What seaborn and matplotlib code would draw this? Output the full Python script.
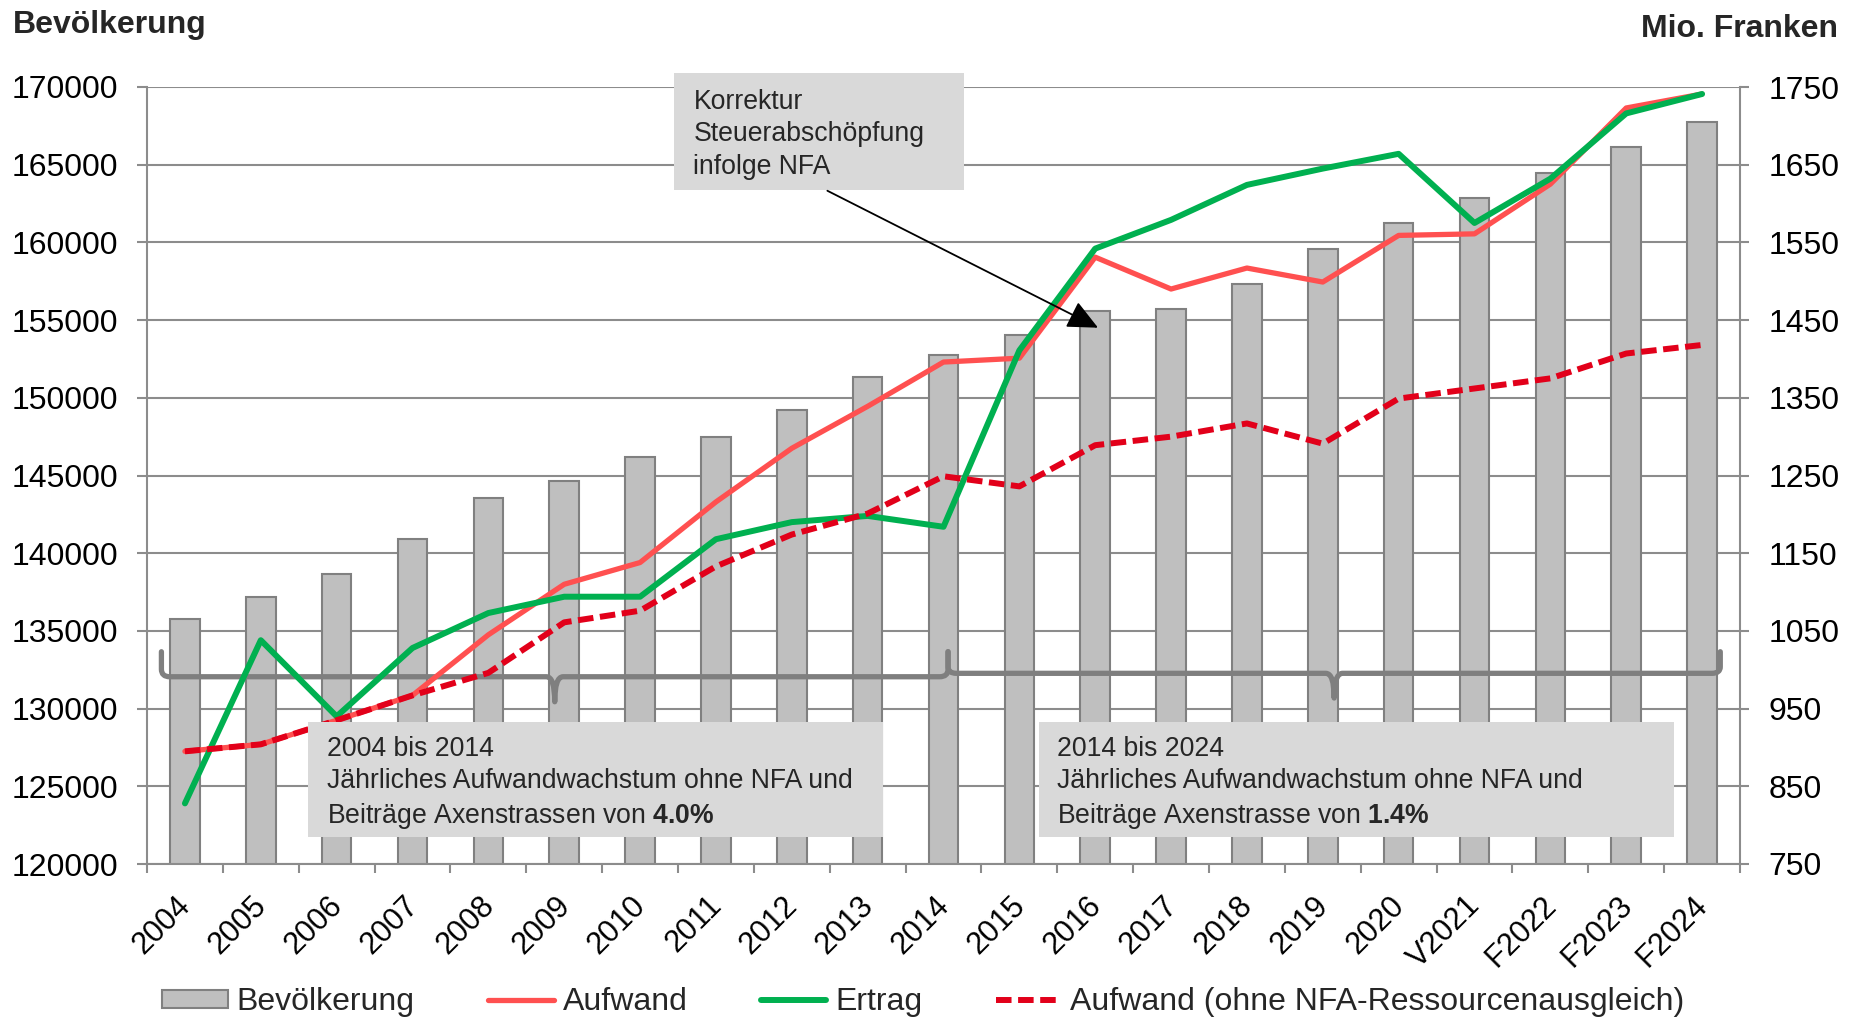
import numpy as np
import pandas as pd
import matplotlib
matplotlib.use('Agg')
import matplotlib.pyplot as plt
import matplotlib.transforms as mtransforms
import seaborn as sns
from matplotlib.patches import Rectangle, Patch, PathPatch
from matplotlib.lines import Line2D
from matplotlib.path import Path

# data
years = ['2004', '2005', '2006', '2007', '2008', '2009', '2010', '2011', '2012', '2013',
         '2014', '2015', '2016', '2017', '2018', '2019', '2020', 'V2021', 'F2022', 'F2023', 'F2024']
bevoelkerung = [135750, 137200, 138680, 140930, 143570, 144650, 146170, 147460, 149230, 151360,
                152730, 154060, 155600, 155730, 157300, 159600, 161230, 162840, 164450, 166120, 167770]
aufwand = [895, 904, 935, 967, 1045, 1110, 1138, 1216, 1285, 1339,
           1396, 1401, 1531, 1490, 1517, 1499, 1559, 1561, 1625, 1723, 1741]
ertrag = [828, 1038, 940, 1028, 1073, 1094, 1094, 1168, 1190, 1198,
          1184, 1411, 1542, 1579, 1624, 1645, 1664, 1575, 1632, 1716, 1741]
aufwand_ohne_nfa = [895, 904, 935, 967, 996, 1061, 1076, 1133, 1174, 1201,
                    1249, 1236, 1289, 1300, 1317, 1291, 1349, 1362, 1375, 1407, 1418]

left_ticks = list(range(120000, 170001, 5000))
right_ticks = list(range(750, 1751, 100))

sns.set_theme(style='white')
plt.rcParams['font.family'] = ['Liberation Sans', 'DejaVu Sans']
plt.rcParams['mathtext.fontset'] = 'custom'
plt.rcParams['mathtext.rm'] = 'Liberation Sans'
plt.rcParams['mathtext.bf'] = 'Liberation Sans:bold'

GRID = '#8C8C8C'
df = pd.DataFrame({'Jahr': years, 'pos': np.arange(len(years)), 'Bevoelkerung': bevoelkerung,
                   'Aufwand': aufwand, 'Ertrag': ertrag, 'Ohne': aufwand_ohne_nfa})

fig = plt.figure(figsize=(18.56, 10.18), dpi=100)
ax = fig.add_axes([147/1856, 1-864/1018, (1740-147)/1856, (864-87)/1018])

sns.barplot(data=df, x='Jahr', y='Bevoelkerung', color='#BFBFBF', saturation=1,
            edgecolor='#808080', linewidth=1.5, width=0.39, ax=ax, zorder=2)
ax.set_ylim(120000, 170000)
ax.set_xlim(-0.5, len(years) - 0.5)
ax.set_yticks(left_ticks)
ax.set_yticklabels([str(t) for t in left_ticks])
ax.set_xlabel('')
ax.set_ylabel('')
ax.set_axisbelow(True)
ax.yaxis.grid(True, color=GRID, lw=1.5)
for s in ['left', 'right', 'bottom']:
    ax.spines[s].set_color(GRID)
    ax.spines[s].set_linewidth(1.5)
ax.spines['top'].set_visible(False)
ax.tick_params(axis='y', left=True, length=7, width=1.5, color=GRID, pad=14,
               labelsize=23, labelcolor='black')
ax.set_xticks(np.arange(len(years)))
ax.set_xticks(np.arange(-0.5, len(years), 1), minor=True)
ax.tick_params(axis='x', which='major', length=0, pad=19, labelsize=22, labelcolor='black')
ax.tick_params(axis='x', which='minor', bottom=True, length=6.5, width=1.5, color=GRID)
offset = mtransforms.ScaledTranslation(12/100, 0, fig.dpi_scale_trans)
for lab in ax.get_xticklabels():
    lab.set_rotation(45)
    lab.set_ha('right')
    lab.set_va('top')
    lab.set_transform(lab.get_transform() + offset)


# curly braces
def brace(a, x0, x1, y, h, tip):
    xm = (x0 + x1) / 2
    rx = 0.11
    ry = h * 0.3
    verts = [(x0, y + h), (x0, y + ry), (x0, y), (x0 + rx, y),
             (xm - rx, y), (xm, y), (xm, y - tip),
             (xm, y), (xm + rx, y),
             (x1 - rx, y), (x1, y), (x1, y + ry), (x1, y + h)]
    codes = [Path.MOVETO, Path.LINETO, Path.CURVE3, Path.CURVE3,
             Path.LINETO, Path.CURVE3, Path.CURVE3,
             Path.CURVE3, Path.CURVE3,
             Path.LINETO, Path.CURVE3, Path.CURVE3, Path.LINETO]
    a.add_patch(PathPatch(Path(verts, codes), fill=False, edgecolor='#7F7F7F', lw=3.8,
                          capstyle='round', joinstyle='round', zorder=3))


brace(ax, -0.31, 10.06, 132050, 1610, 1610)
brace(ax, 10.06, 20.24, 132270, 1390, 1590)

ax2 = ax.twinx()
sns.lineplot(data=df, x='pos', y='Aufwand', color='#FF5050', lw=3.8, ax=ax2)
sns.lineplot(data=df, x='pos', y='Ertrag', color='#00B050', lw=4.3, ax=ax2)
sns.lineplot(data=df, x='pos', y='Ohne', color='#E2001A', lw=4.3, ax=ax2)
ax2.lines[-1].set_dashes([2.6, 1.1])
ax2.set_ylim(750, 1750)
ax2.set_xlim(-0.5, len(years) - 0.5)
ax2.set_yticks(right_ticks)
ax2.set_yticklabels([str(t) for t in right_ticks])
ax2.set_xlabel('')
ax2.set_ylabel('')
for s in ax2.spines.values():
    s.set_visible(False)
ax2.tick_params(axis='y', right=True, length=6.5, width=1.5, color=GRID, pad=14,
                labelsize=23, labelcolor='black')

# text boxes
BOX = '#D9D9D9'
ax2.add_patch(Rectangle((0.1011, 0.0344), 0.4620 - 0.1011, 0.1831 - 0.0344, transform=ax2.transAxes,
                        facecolor=BOX, edgecolor='none', zorder=5))
ax2.text(0.1130, 0.1037, '2004 bis 2014\nJährliches Aufwandwachstum ohne NFA und\n'
         'Beiträge Axenstrassen von $\\mathbf{4.0\\%}$', transform=ax2.transAxes,
         fontsize=19.2, va='center', ha='left', zorder=6, linespacing=1.32)
ax2.add_patch(Rectangle((0.5599, 0.0344), 0.9586 - 0.5599, 0.1831 - 0.0344, transform=ax2.transAxes,
                        facecolor=BOX, edgecolor='none', zorder=5))
ax2.text(0.5712, 0.1037, '2014 bis 2024\nJährliches Aufwandwachstum ohne NFA und\n'
         'Beiträge Axenstrasse von $\\mathbf{1.4\\%}$', transform=ax2.transAxes,
         fontsize=19.2, va='center', ha='left', zorder=6, linespacing=1.32)
ax2.add_patch(Rectangle((0.3308, 0.8670), 0.5129 - 0.3308, 1.0176 - 0.8670, transform=ax2.transAxes,
                        facecolor=BOX, edgecolor='none', zorder=5, clip_on=False))
ax2.text(0.3430, 0.9393, 'Korrektur\nSteuerabschöpfung\ninfolge NFA', transform=ax2.transAxes,
         fontsize=19.2, va='center', ha='left', zorder=6, linespacing=1.32, clip_on=False)
ax2.annotate('', xy=(0.5970, 0.6902), xytext=(0.4271, 0.8665), xycoords='axes fraction',
             textcoords='axes fraction', zorder=6,
             arrowprops=dict(arrowstyle='-|>,head_length=0.75,head_width=0.35', color='black',
                             lw=1.3, mutation_scale=25, shrinkA=0, shrinkB=0))

# axis titles
fig.text(13/1856, 1 - 33.3/1018, 'Bevölkerung', fontsize=23, fontweight='bold', va='baseline', ha='left')
fig.text(1838/1856, 1 - 36.7/1018, 'Mio. Franken', fontsize=23, fontweight='bold', va='baseline', ha='right')

# legend
handles = [Patch(facecolor='#BFBFBF', edgecolor='#808080', lw=1.5),
           Line2D([], [], color='#FF5050', lw=3.8),
           Line2D([], [], color='#00B050', lw=4.3),
           Line2D([], [], color='#E2001A', lw=4.3, dashes=[2.6, 1.1])]
labels = ['Bevölkerung', 'Aufwand', 'Ertrag', 'Aufwand (ohne NFA-Ressourcenausgleich)']
fig.legend(handles, labels, loc='center', bbox_to_anchor=(0.4975, 1 - 1002/1018), ncol=4,
           frameon=False, fontsize=23, handlelength=2.05, handleheight=0.5,
           handletextpad=0.28, columnspacing=2.3, borderpad=0, borderaxespad=0)

fig.savefig('out.png', dpi=100)
